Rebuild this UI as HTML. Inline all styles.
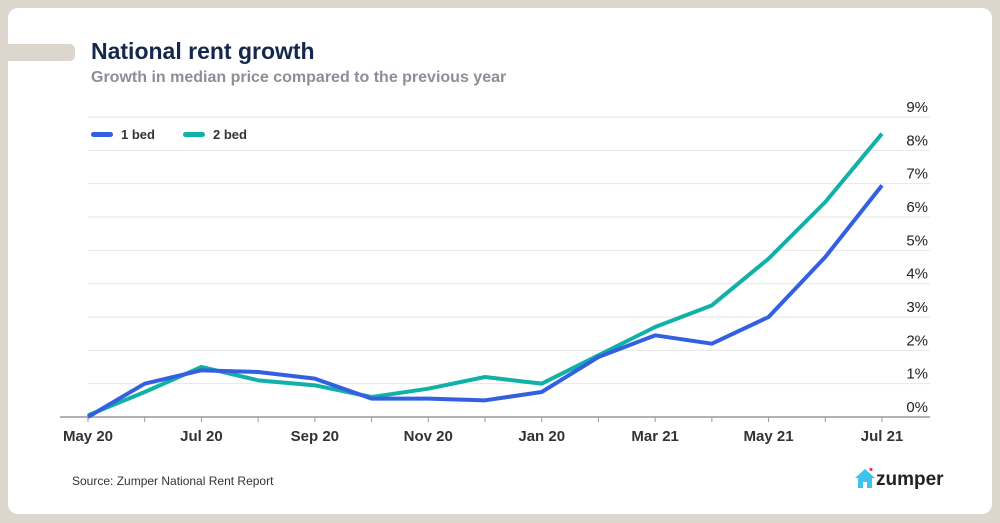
<!DOCTYPE html>
<html><head><meta charset="utf-8"><style>
body{margin:0;width:1000px;height:523px;background:#ddd6cc;font-family:"Liberation Sans",sans-serif;overflow:hidden}
#card{position:absolute;left:8px;top:8px;width:984px;height:506px;background:#fff;border-radius:10px}
#bar{position:absolute;left:8px;top:44px;width:67px;height:17px;background:#ddd6cc;border-radius:0 5px 5px 0}
h1{position:absolute;left:91px;top:38px;margin:0;font-size:23px;color:#14284b;font-weight:bold}
#sub{position:absolute;left:91px;top:69px;font-size:16px;color:#8a8f98;font-weight:bold}
#src{position:absolute;left:72px;top:474px;font-size:12px;color:#333}
#logo{position:absolute;left:854px;top:468px;font-size:19px;font-weight:bold;color:#222}
</style></head><body>
<div id="card"></div>
<div id="bar"></div>
<h1>National rent growth</h1>
<div id="sub">Growth in median price compared to the previous year</div>
<svg id="chart" width="1000" height="523" style="position:absolute;left:0;top:0"></svg>
<div id="src">Source: Zumper National Rent Report</div>
<div id="logo"><svg width="22" height="20" style="vertical-align:-3px"><path d="M1 10 L11 1 L21 10 L18 10 L18 20 L13 20 L13 14 L9 14 L9 20 L4 20 L4 10 Z" fill="#3ec2f0"/><circle cx="17" cy="1.5" r="1.6" fill="#e8336b"/></svg>zumper</div>
<script>
const months=["May 20","Jun 20","Jul 20","Aug 20","Sep 20","Oct 20","Nov 20","Dec 20","Jan 20","Feb 21","Mar 21","Apr 21","May 21","Jun 21","Jul 21"];
const oneBed=[0,1.0,1.4,1.35,1.15,0.55,0.55,0.5,0.75,1.8,2.45,2.2,3.0,4.8,6.95];
const twoBed=[0.05,0.75,1.5,1.1,0.95,0.6,0.85,1.2,1.0,1.85,2.7,3.35,4.75,6.45,8.5];
const yTicks=[0,1,2,3,4,5,6,7,8,9];
const svg=document.getElementById('chart');const NS='http://www.w3.org/2000/svg';
const x=i=>88+i*(882-88)/(months.length-1);
const y=v=>417-v*(300/9);
function el(t,a){const e=document.createElementNS(NS,t);for(const k in a)e.setAttribute(k,a[k]);svg.appendChild(e);return e;}
yTicks.forEach(v=>{
 const l=el('line',{x1:88,x2:930,y1:y(v),y2:y(v),stroke:v?'#e6e6e6':'#999','stroke-width':v?1:1.5});
 
 
 const t=el('text',{x:928,y:y(v)-5,'text-anchor':'end','font-size':15,fill:'#222','font-family':'Liberation Sans'});
 t.textContent=v+'%';
 
 
});
const ax=el('line',{x1:60,x2:88,y1:417,y2:417,stroke:'#999','stroke-width':1.5});


months.forEach((m,i)=>{
 const tk=el('line',{x1:x(i),x2:x(i),y1:417,y2:422,stroke:'#999'});
 
 
 if(i%2==0){const t=el('text',{x:x(i),y:441,'text-anchor':'middle','font-size':15,'font-weight':'bold',fill:'#333','font-family':'Liberation Sans'});
 t.textContent=m;
 
 }
});
[[twoBed,'#12b1a8','series-2-bed'],[oneBed,'#3260e0','series-1-bed']].forEach(([d,c,n])=>{
 const p=el('polyline',{points:d.map((v,i)=>x(i)+','+y(v)).join(' '),fill:'none',stroke:c,'stroke-width':4,'stroke-linejoin':'round'});
 
 
});
[['1 bed','#3260e0',91],['2 bed','#12b1a8',183]].forEach(([t,c,lx])=>{
 const r=el('rect',{x:lx,y:132,width:22,height:5,rx:2.5,fill:c});
 
 
 const tx=el('text',{x:lx+30,y:139,'font-size':13,'font-weight':'bold',fill:'#333','font-family':'Liberation Sans'});
 tx.textContent=t;
 
 
});
</script>
</body></html>
